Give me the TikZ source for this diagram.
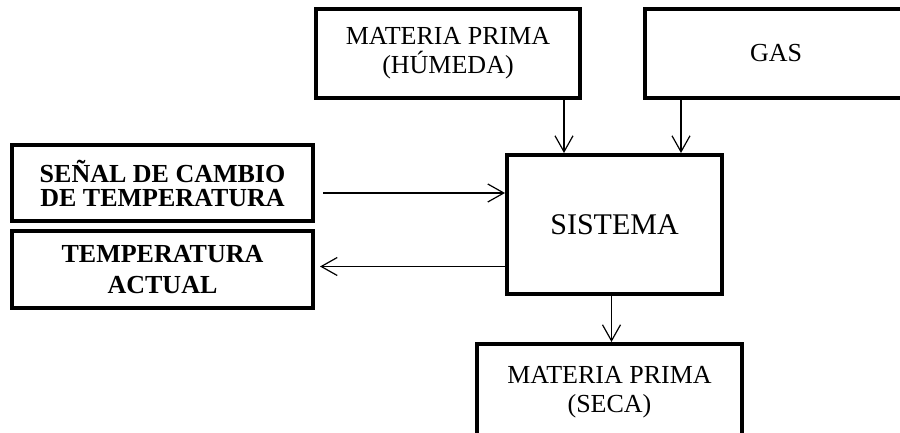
\documentclass[tikz,border=0pt]{standalone}
\usepackage{fontspec}
\setmainfont{Liberation Serif}
\usetikzlibrary{arrows.meta,positioning}

\begin{document}
\begin{tikzpicture}[
		x=1pt, y=-1pt,
		bloque/.style={
				draw,
				line width=4pt,
				align=center,
				inner sep=0pt,
				font=\fontsize{26}{29}\selectfont
			},
		senial/.style={bloque, font=\fontsize{26}{24}\selectfont\bfseries},
		flecha/.style={-{Straight Barb[length=16pt,width=18pt]}, line width=1.2pt}
	]
	\useasboundingbox (0,0) rectangle (900,433);
	\clip (0,0) rectangle (900,433);

	% entradas de arriba
	\node[bloque, minimum width=264pt, minimum height=89pt] (hum) at (448,53.5) {MATERIA PRIMA\\(HÚMEDA)};
	\node[bloque, minimum width=262pt, minimum height=89pt] (gas) at (776,53.5) {GAS};

	% sistema y salida
	\node[bloque, minimum width=215pt, minimum height=139pt, font=\fontsize{30}{32}\selectfont] (sis) at (614.5,224.5) {SISTEMA};
	\node[bloque, minimum width=265pt, minimum height=96pt] (seca) at (609.5,392) {MATERIA PRIMA\\(SECA)};

	% señales a la izquierda
	\node[senial, minimum width=301pt, minimum height=76pt] (senal) at (162.5,183) {SEÑAL DE CAMBIO\\DE TEMPERATURA};
	\node[senial, minimum width=301pt, minimum height=77pt, font=\fontsize{26}{31}\selectfont\bfseries] (temp) at (162.5,269.5) {TEMPERATURA\\ACTUAL};

	\coordinate (a1) at ([xshift=-18pt]hum.south east);
	\coordinate (a2) at ([xshift=38pt]gas.south west);
	\coordinate (a3) at ([xshift=8pt,yshift=-10pt]senal.east);
	\coordinate (a4) at ([yshift=-42pt]sis.west);
	\coordinate (a5) at ([xshift=5pt]temp.east);
	\coordinate (a6) at ([xshift=-3pt]sis.south);

	\draw[flecha] (a1) -- (a1 |- sis.north);
	\draw[flecha] (a2) -- (a2 |- sis.north);
	\draw[flecha] (a3) -- (a3 -| sis.west);
	\draw[flecha] (a4) -- (a4 -| a5);
	\draw[flecha] (a6) -- (a6 |- seca.north);
\end{tikzpicture}
\end{document}
